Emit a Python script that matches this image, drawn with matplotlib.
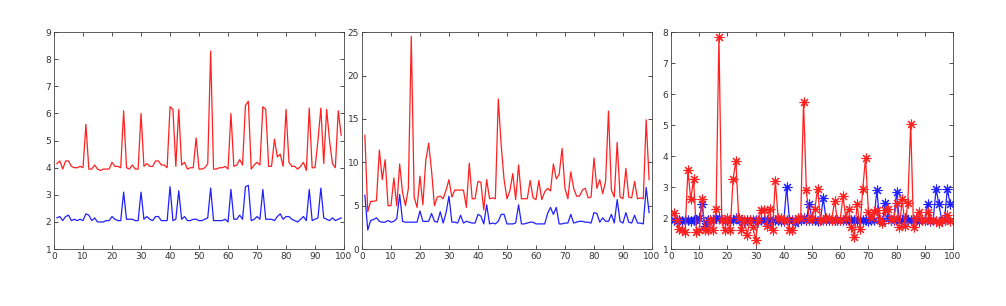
#Three panels of red/blue series, Octave style axes.
import matplotlib
matplotlib.use('Agg')
import matplotlib.pyplot as plt

x = list(range(1, 100))

#left panel
red1 = [4.15, 4.25, 3.95, 4.25, 4.25, 4.05, 4.0, 4.0, 4.05, 4.0,
        5.6, 3.95, 3.95, 4.1, 3.95, 3.9, 3.95, 3.95, 3.95, 4.2,
        4.05, 4.05, 4.0, 6.1, 4.0, 3.95, 4.1, 3.95, 3.95, 6.0,
        4.05, 4.15, 4.05, 4.05, 4.25, 4.25, 4.1, 4.1, 4.0, 6.25,
        6.15, 4.05, 6.15, 4.1, 4.2, 3.95, 4.0, 4.0, 5.1, 3.95,
        3.95, 4.0, 4.15, 8.3, 3.95, 3.95, 4.0, 4.0, 4.05, 3.95,
        6.0, 4.05, 4.1, 4.3, 4.1, 6.3, 6.45, 3.95, 4.1, 4.2,
        4.1, 6.25, 6.15, 4.05, 4.05, 5.05, 4.4, 4.5, 4.05, 6.15,
        4.2, 4.05, 4.05, 3.95, 4.05, 4.2, 3.9, 6.2, 4.0, 4.0,
        5.0, 6.2, 4.15, 6.15, 5.0, 4.15, 4.0, 6.1, 5.2]
blue1 = [2.15, 2.2, 2.05, 2.2, 2.25, 2.05, 2.1, 2.05, 2.1, 2.05,
         2.3, 2.25, 2.05, 2.15, 2.0, 2.0, 2.0, 2.05, 2.05, 2.2,
         2.1, 2.05, 2.05, 3.1, 2.1, 2.1, 2.1, 2.05, 2.05, 3.1,
         2.1, 2.2, 2.1, 2.05, 2.2, 2.2, 2.05, 2.05, 2.05, 3.3,
         2.05, 2.1, 3.15, 2.1, 2.2, 2.05, 2.05, 2.1, 2.1, 2.05,
         2.05, 2.1, 2.15, 3.25, 2.05, 2.05, 2.05, 2.05, 2.1, 2.0,
         3.2, 2.1, 2.1, 2.25, 2.1, 3.3, 3.35, 2.05, 2.1, 2.2,
         2.1, 3.2, 2.1, 2.1, 2.1, 2.05, 2.2, 2.3, 2.1, 2.2,
         2.2, 2.1, 2.05, 2.0, 2.1, 2.2, 2.05, 3.2, 2.05, 2.1,
         2.15, 3.25, 2.15, 2.1, 2.05, 2.15, 2.05, 2.1, 2.15]

#middle panel
red2 = [13.1, 4.3, 5.5, 5.5, 5.6, 11.4, 8.0, 10.3, 5.0, 5.0,
        8.2, 5.0, 9.8, 6.5, 5.0, 7.0, 24.5, 6.0, 4.8, 8.4,
        5.1, 10.2, 12.2, 9.0, 5.0, 6.0, 6.1, 5.8, 6.8, 8.0,
        6.0, 6.8, 6.8, 6.8, 6.8, 4.8, 9.9, 5.8, 5.8, 7.8,
        7.7, 4.5, 8.0, 5.8, 5.9, 5.8, 17.3, 12.0, 8.0, 5.8,
        6.7, 8.7, 5.7, 9.7, 5.8, 5.8, 5.8, 7.9, 5.9, 5.7,
        7.9, 5.7, 6.6, 7.0, 6.7, 9.8, 8.1, 8.6, 11.6, 7.0,
        5.8, 8.9, 7.0, 6.1, 6.1, 6.8, 7.0, 5.9, 6.0, 10.5,
        7.0, 8.0, 6.4, 7.8, 15.9, 6.8, 6.0, 12.3, 6.0, 5.8,
        9.3, 6.0, 5.9, 7.8, 5.8, 5.9, 5.8, 14.9, 8.0]
blue2 = [6.2, 2.2, 3.3, 3.4, 3.6, 3.2, 3.1, 3.1, 3.3, 3.1,
         3.2, 3.5, 6.3, 3.2, 3.1, 3.1, 3.1, 3.1, 3.1, 4.4,
         3.2, 3.2, 3.2, 4.1, 3.2, 3.1, 4.3, 3.0, 4.2, 6.1,
         3.1, 3.1, 3.0, 3.9, 3.0, 3.2, 3.1, 3.0, 3.0, 4.0,
         3.8, 2.9, 5.1, 2.9, 3.0, 2.9, 3.2, 4.0, 4.0, 2.9,
         2.9, 2.9, 3.0, 5.1, 2.9, 2.9, 3.0, 3.1, 3.1, 2.9,
         2.9, 2.9, 2.9, 4.1, 4.8, 4.0, 4.8, 2.9, 2.9, 3.0,
         3.0, 4.0, 3.0, 3.1, 3.2, 3.2, 3.1, 3.1, 3.0, 4.2,
         4.1, 3.1, 3.6, 3.2, 3.2, 4.0, 3.0, 5.7, 3.2, 3.0,
         4.2, 3.1, 3.0, 3.9, 3.0, 3.0, 2.9, 7.1, 4.2]

#right panel
red3 = [2.15, 1.95, 1.65, 1.6, 1.55, 3.55, 2.6, 3.25, 1.55, 1.6,
        2.6, 1.6, 1.6, 1.95, 1.6, 2.3, 7.85, 1.95, 1.6, 2.0,
        1.6, 3.25, 3.85, 2.0, 1.6, 1.95, 1.45, 1.95, 1.7, 1.3,
        1.95, 2.25, 2.25, 1.75, 2.3, 1.6, 3.2, 2.0, 2.0, 1.95,
        1.95, 1.6, 1.6, 1.95, 2.0, 2.0, 5.75, 2.9, 1.95, 2.0,
        2.3, 2.95, 1.95, 1.95, 2.0, 2.0, 1.95, 2.55, 1.95, 1.95,
        2.7, 2.0, 2.3, 1.7, 1.4, 2.45, 1.65, 2.95, 3.95, 2.2,
        2.0, 2.2, 2.25, 1.95, 1.85, 2.25, 2.3, 1.95, 2.0, 2.5,
        1.7, 2.6, 1.75, 2.5, 5.05, 1.7, 2.0, 2.2, 1.95, 1.95,
        2.2, 1.95, 1.95, 1.9, 1.85, 1.95, 1.95, 2.1, 1.9]
blue3 = [1.95, 1.9, 1.95, 1.9, 1.95, 1.95, 1.9, 1.95, 1.95, 2.0,
         2.45, 1.75, 1.95, 1.95, 1.95, 2.0, 2.0, 1.95, 1.95, 1.95,
         1.95, 1.95, 2.0, 1.95, 1.95, 1.9, 1.95, 1.95, 1.95, 1.95,
         1.9, 1.95, 1.95, 1.95, 1.9, 1.95, 1.95, 1.95, 1.9, 1.9,
         3.0, 1.95, 1.95, 1.85, 1.95, 1.95, 2.0, 1.95, 2.45, 1.95,
         1.95, 1.9, 1.95, 2.65, 1.95, 1.95, 1.95, 1.95, 1.95, 1.95,
         1.95, 1.95, 1.95, 1.95, 1.95, 1.9, 1.95, 1.95, 1.95, 1.9,
         1.95, 1.95, 2.9, 1.95, 1.9, 2.5, 2.0, 1.95, 1.95, 2.85,
         1.9, 1.95, 2.0, 1.95, 1.95, 1.95, 1.95, 1.9, 1.95, 1.95,
         2.45, 1.9, 1.95, 2.95, 2.45, 1.95, 1.95, 2.95, 2.45]

fig = plt.figure(figsize=(10.06, 3.06), dpi=100)

def style(ax, ylim, yticks):
    ax.set_xlim(0, 100)
    ax.set_ylim(*ylim)
    ax.set_xticks(range(0, 101, 10))
    ax.set_yticks(yticks)
    ax.tick_params(direction='in', top=True, right=True, labelsize=6.5,
                   length=3, width=0.6, colors='#333333', pad=2)
    for s in ax.spines.values():
        s.set_linewidth(0.6)
        s.set_color('#444444')

ax1 = fig.add_axes([0.0537, 0.186, 0.2883, 0.709])
ax1.plot(x, red1, color='#ff2020', lw=0.9)
ax1.plot(x, blue1, color='#2020ff', lw=0.9)
style(ax1, (1, 9), range(1, 10))

ax2 = fig.add_axes([0.3598, 0.186, 0.2883, 0.709])
ax2.plot(x, red2, color='#ff2020', lw=0.9)
ax2.plot(x, blue2, color='#2020ff', lw=0.9)
style(ax2, (0, 25), range(0, 26, 5))

#octave style asterisk: plus and cross together
ast = (8, 2, 0)
ax3 = fig.add_axes([0.667, 0.186, 0.2803, 0.709])
ax3.plot(x, blue3, color='#2020ff', lw=0.9, marker=ast, markersize=7, markeredgewidth=0.8)
ax3.plot(x, red3, color='#ff2020', lw=0.9, marker=ast, markersize=7, markeredgewidth=0.8)
style(ax3, (1, 8), range(1, 9))

fig.savefig('out.png', dpi=100)
